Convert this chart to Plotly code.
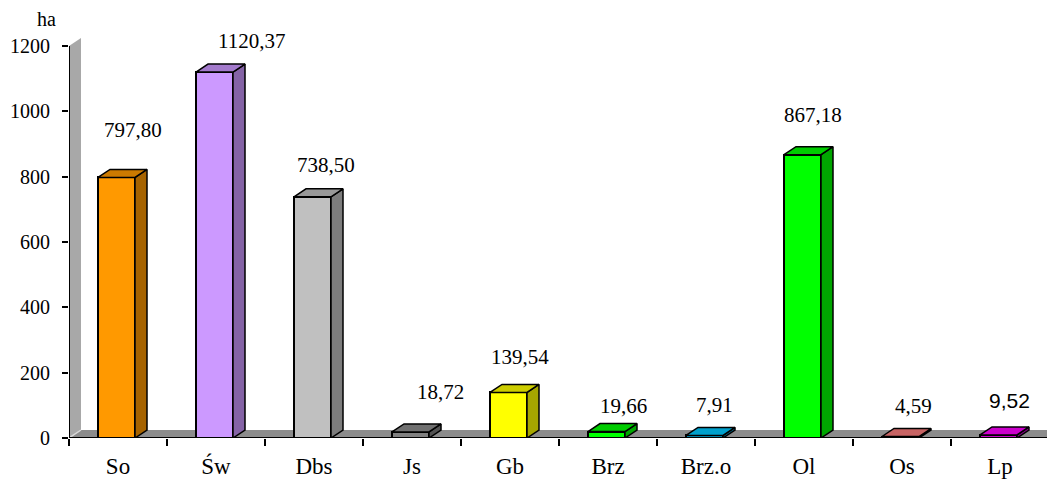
import plotly.graph_objects as go

categories = ["So", "Św", "Dbs", "Js", "Gb", "Brz", "Brz.o", "Ol", "Os", "Lp"]
values = [797.80, 1120.37, 738.50, 18.72, 139.54, 19.66, 7.91, 867.18, 4.59, 9.52]
labels = ["797,80", "1120,37", "738,50", "18,72", "139,54", "19,66", "7,91", "867,18", "4,59", "9,52"]
front_colors = ["#ff9900", "#cc99ff", "#c0c0c0", "#808080", "#ffff00", "#00ff00", "#00a8d8", "#00ff00", "#d06a6a", "#cc00cc"]
top_colors = ["#cc7a00", "#a37acc", "#999999", "#707070", "#cccc00", "#00cc00", "#00a0cc", "#00cc00", "#c86464", "#cc00cc"]
side_colors = ["#a66300", "#8563a6", "#7d7d7d", "#535353", "#a6a600", "#00a600", "#006d8c", "#00a600", "#874545", "#850085"]
label_dx = [15, 35, 12, 28, 10, 15, 8, 9, 11, 9]
label_dy = [47, 31, 32, 40, 35, 26, 30, 40, 31, 34]
y_ticks = [0, 200, 400, 600, 800, 1000, 1200]

W, H = 1047, 479
L, B = 69, 41
Y_PX = (H - 46 - B) / 1200      # pixels per hectare
T = 46 - 10                     # plot top leaves room for the wall's slanted top
Y_TOP = 1200 + 10 / Y_PX
CAT_PX = 98.0
X0 = -0.5
X1 = X0 + (W - L) / CAT_PX
DX = 12 / CAT_PX
DY = 8 / Y_PX
BAR_W = 37 / CAT_PX
BAR_SHIFT = -1.5 / CAT_PX

fig = go.Figure()

# wall and floor of the 3D box (base axes, under the bars)
fig.add_trace(go.Scatter(x=[X0, X0, X0 + DX, X0 + DX, X0], y=[0, 1200, 1200 + DY, DY, 0],
                         fill="toself", fillcolor="#a8a8a8", mode="lines", line=dict(width=0),
                         hoverinfo="skip", showlegend=False))
fig.add_trace(go.Scatter(x=[X0, X0 + DX, X1 + 1, X1 + 1, X0], y=[0, DY, DY, 0, 0],
                         fill="toself", fillcolor="#8c8c8c", mode="lines", line=dict(width=0),
                         hoverinfo="skip", showlegend=False))
fig.add_trace(go.Scatter(x=[X0, X0 + DX], y=[0, DY], mode="lines", line=dict(color="#d8d8d8", width=1.5),
                         hoverinfo="skip", showlegend=False))

# front faces
fig.add_trace(go.Bar(x=[i + BAR_SHIFT for i in range(len(values))], y=values, width=BAR_W,
                     marker=dict(color=front_colors, line=dict(color="black", width=2)),
                     xaxis="x2", yaxis="y2", showlegend=False))

# side and top faces
for i, v in enumerate(values):
    a = i + BAR_SHIFT - BAR_W / 2
    b = i + BAR_SHIFT + BAR_W / 2
    fig.add_trace(go.Scatter(x=[b, b + DX, b + DX, b, b], y=[0, DY, v + DY, v, 0], fill="toself",
                             fillcolor=side_colors[i], mode="lines", line=dict(color="black", width=1.5),
                             xaxis="x2", yaxis="y2", hoverinfo="skip", showlegend=False))
    fig.add_trace(go.Scatter(x=[a, a + DX, b + DX, b, a], y=[v, v + DY, v + DY, v, v], fill="toself",
                             fillcolor=top_colors[i], mode="lines", line=dict(color="black", width=1.5),
                             xaxis="x2", yaxis="y2", hoverinfo="skip", showlegend=False))

# axis lines
fig.add_trace(go.Scatter(x=[X0, X0, X1], y=[1200, 0, 0], mode="lines", line=dict(color="black", width=2),
                         cliponaxis=False, xaxis="x2", yaxis="y2", hoverinfo="skip", showlegend=False))

serif = "Liberation Serif"
annotations = [dict(x=i, y=v, xref="x", yref="y", text=labels[i], showarrow=False,
                    xshift=label_dx[i], yshift=label_dy[i], xanchor="center", yanchor="middle",
                    font=dict(family="Liberation Sans" if i == 9 else serif, size=21, color="black"))
               for i, v in enumerate(values)]
annotations.append(dict(xref="paper", yref="paper", x=(46 - L) / (W - L), y=1 + (T - 19) / (H - T - B),
                        text="ha", showarrow=False, xanchor="center", yanchor="middle",
                        font=dict(family=serif, size=20, color="black")))

fig.update_layout(
    width=W, height=H, margin=dict(l=L, r=0, t=T, b=B, pad=0, autoexpand=False),
    paper_bgcolor="white", plot_bgcolor="white", bargap=0,
    font=dict(family=serif, size=20, color="black"),
    annotations=annotations,
    xaxis=dict(range=[X0, X1], tickmode="array", tickvals=list(range(len(categories))), ticktext=categories,
               ticks="", showgrid=False, zeroline=False, showline=False, ticklabelstandoff=12,
               tickfont=dict(family=serif, size=23)),
    yaxis=dict(range=[0, Y_TOP], tickmode="array", tickvals=y_ticks, ticks="outside", ticklen=6, tickwidth=2,
               tickcolor="black", showgrid=False, zeroline=False, showline=False, ticklabelstandoff=8,
               tickfont=dict(family=serif, size=20)),
    xaxis2=dict(range=[X0, X1], overlaying="x", anchor="y2", side="bottom", tickmode="array",
                tickvals=[i - 0.5 for i in range(len(categories) + 1)], ticktext=[""] * (len(categories) + 1),
                ticks="outside", ticklen=7, tickwidth=2, tickcolor="black", showgrid=False, zeroline=False,
                showline=False),
    yaxis2=dict(range=[0, Y_TOP], overlaying="y", anchor="x2", side="left", tickmode="array", tickvals=[],
                showgrid=False, zeroline=False, showline=False),
)

fig.write_html("out.html", config=dict(displayModeBar=False),
               post_script="document.body.style.margin='0';")
